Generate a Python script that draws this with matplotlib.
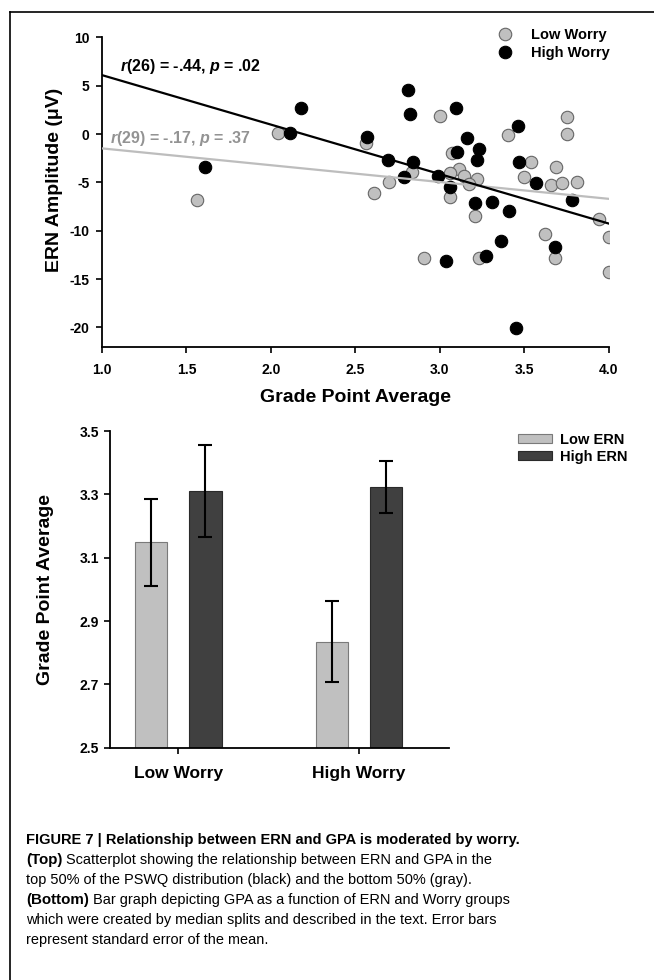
import matplotlib
matplotlib.use("Agg")
from matplotlib import pyplot as plt
from matplotlib.lines import Line2D
from matplotlib.patches import Patch
import numpy as np

# scatter: GPA vs ERN amplitude
low_gpa = [1.56, 2.04, 2.56, 3.00, 3.40, 3.755, 3.75, 2.836, 2.70, 2.61, 3.07, 3.11, 3.06, 3.14,
           3.22, 3.17, 3.06, 3.54, 3.50, 3.69, 3.66, 3.72, 3.81, 3.21, 3.94, 4.00, 3.62, 3.68,
           2.905, 3.23, 4.00]
low_ern = [-6.83, 0.07, -0.97, 1.86, -0.10, 1.72, 0.00, -3.97, -4.93, -6.07, -2.00, -3.62, -4.07, -4.31,
           -4.66, -5.18, -6.49, -2.93, -4.41, -3.45, -5.28, -5.10, -5.00, -8.49, -8.83, -10.6, -10.35, -12.87,
           -12.77, -12.87, -14.25]
high_gpa = [1.61, 2.11, 2.18, 2.566, 2.81, 2.82, 3.095, 3.46, 2.69, 2.84, 2.79, 2.99, 3.10, 3.16,
            3.23, 3.22, 3.06, 3.47, 3.57, 3.78, 3.21, 3.31, 3.41, 3.68, 3.36, 3.035, 3.27, 3.45]
high_ern = [-3.38, 0.13, 2.66, -0.28, 4.55, 2.07, 2.72, 0.86, -2.69, -2.86, -4.41, -4.31, -1.90, -0.38,
            -1.55, -2.69, -5.52, -2.93, -5.10, -6.83, -7.17, -7.07, -7.97, -11.66, -11.08, -13.15, -12.63, -20.1]

# regression lines (slope, intercept)
high_fit = (-5.12, 11.22)
low_fit = (-1.74, 0.26)
high_stat = "$r$(26) = -.44, $p$ = .02"
low_stat = "$r$(29) = -.17, $p$ = .37"

# bar chart
groups = ["Low Worry", "High Worry"]
low_ern_gpa = [3.149, 2.835]
low_ern_se = [0.137, 0.128]
high_ern_gpa = [3.311, 3.324]
high_ern_se = [0.145, 0.082]

plt.rcParams['font.family'] = ['Liberation Sans', 'DejaVu Sans']
plt.rcParams['font.weight'] = 'bold'
plt.rcParams['mathtext.fontset'] = 'custom'
plt.rcParams['mathtext.it'] = 'Liberation Sans:italic:bold'
plt.rcParams['mathtext.rm'] = 'Liberation Sans:bold'
plt.rcParams['axes.linewidth'] = 1.3
plt.rcParams['axes.unicode_minus'] = False

fig = plt.figure(figsize=(6.54, 9.8), dpi=100)

# ---- top: scatter ----
ax = fig.add_axes([0.156, 0.6462, 0.775, 0.3156])
ax.scatter(low_gpa, low_ern, s=80, c='#c0c0c0', edgecolors='#666666', linewidths=0.8, zorder=2)
ax.scatter(high_gpa, high_ern, s=80, c='black', edgecolors='black', linewidths=0.8, zorder=3)
xs = np.array([1.0, 4.0])
ax.plot(xs, low_fit[0] * xs + low_fit[1], color='#bdbdbd', lw=1.6, zorder=4)
ax.plot(xs, high_fit[0] * xs + high_fit[1], color='black', lw=1.6, zorder=4)
ax.text(1.106, 6.97, high_stat, fontsize=11.5, fontweight='bold', color='black', va='center')
ax.text(1.05, -0.45, low_stat, fontsize=11.5, fontweight='bold', color='#939393', va='center')

ax.set_xlim(1.0, 4.0)
ax.set_ylim(-22, 10)
ax.set_xticks([1.0, 1.5, 2.0, 2.5, 3.0, 3.5, 4.0])
ax.set_xticklabels(["1.0", "1.5", "2.0", "2.5", "3.0", "3.5", "4.0"])
ax.set_yticks([10, 5, 0, -5, -10, -15, -20])
ax.spines['top'].set_visible(False)
ax.spines['right'].set_visible(False)
ax.tick_params(direction='out', length=4, width=1.2, labelsize=10, pad=5)
ax.tick_params(axis='x', pad=8)
ax.set_xlabel("Grade Point Average", fontsize=14, fontweight='bold')
ax.set_ylabel("ERN Amplitude (μV)", fontsize=14, fontweight='bold')
ax.xaxis.set_label_coords(0.5, -0.137)
ax.yaxis.set_label_coords(-0.077, 0.539)

handles = [Line2D([], [], ls='none', marker='o', ms=9, mfc='#c0c0c0', mec='#666666', mew=0.8),
           Line2D([], [], ls='none', marker='o', ms=9, mfc='black', mec='black', mew=0.8)]
ax.legend(handles, ["Low Worry", "High Worry"], loc='upper left', bbox_to_anchor=(0.780, 1.031),
          frameon=False, handlelength=1.0, handletextpad=1.3, labelspacing=0.3,
          borderpad=0, borderaxespad=0, prop={'weight': 'bold', 'size': 10.5})

# ---- bottom: bars ----
bx = fig.add_axes([0.168, 0.237, 0.5185, 0.3232])
pos = np.arange(len(groups))
bx.bar(pos - 0.15, np.array(low_ern_gpa) - 2.5, 0.18, bottom=2.5, color='#c0c0c0', edgecolor='#7a7a7a',
       lw=0.8, yerr=low_ern_se, capsize=5, error_kw={'elinewidth': 1.5, 'capthick': 1.5}, zorder=2)
bx.bar(pos + 0.15, np.array(high_ern_gpa) - 2.5, 0.18, bottom=2.5, color='#404040', edgecolor='#2a2a2a',
       lw=0.8, yerr=high_ern_se, capsize=5, error_kw={'elinewidth': 1.5, 'capthick': 1.5}, zorder=2)
bx.set_xlim(-0.378, 1.498)
bx.set_ylim(2.5, 3.5)
bx.set_yticks([2.5, 2.7, 2.9, 3.1, 3.3, 3.5])
bx.set_yticklabels(["2.5", "2.7", "2.9", "3.1", "3.3", "3.5"])
bx.set_xticks(pos)
bx.set_xticklabels(groups, fontsize=12.5, fontweight='bold')
bx.spines['top'].set_visible(False)
bx.spines['right'].set_visible(False)
bx.tick_params(direction='out', length=4, width=1.2, labelsize=10, pad=4)
bx.tick_params(axis='x', pad=9, labelsize=12.5)
bx.set_ylabel("Grade Point Average", fontsize=14, fontweight='bold')
bx.yaxis.set_label_coords(-0.164, 0.5)

bhandles = [Patch(facecolor='#c0c0c0', edgecolor='#7a7a7a', lw=0.8),
            Patch(facecolor='#404040', edgecolor='#2a2a2a', lw=0.8)]
bx.legend(bhandles, ["Low ERN", "High ERN"], loc='upper left', bbox_to_anchor=(1.204, 0.995),
          frameon=False, handlelength=2.3, handleheight=0.6, handletextpad=0.6, labelspacing=0.22,
          borderpad=0, borderaxespad=0, prop={'weight': 'bold', 'size': 10.5})

# ---- frame lines ----
fig.add_artist(Line2D([10 / 654, 1.0], [1 - 11.7 / 980] * 2, color='black', lw=1.2))
fig.add_artist(Line2D([10 / 654] * 2, [0.0, 1 - 11.7 / 980], color='black', lw=1.2))

# ---- caption ----
caption = [("FIGURE 7 | Relationship between ERN and GPA is moderated by worry.", ""),
           ("(Top)", " Scatterplot showing the relationship between ERN and GPA in the"),
           ("", "top 50% of the PSWQ distribution (black) and the bottom 50% (gray)."),
           ("(Bottom)", " Bar graph depicting GPA as a function of ERN and Worry groups"),
           ("", "which were created by median splits and described in the text. Error bars"),
           ("", "represent standard error of the mean.")]
renderer = fig.canvas.get_renderer()
x0 = 26 / 654
for i, (bold, rest) in enumerate(caption):
    y = 1 - (844 + 20 * i) / 980
    x = x0
    if bold:
        t = fig.text(x, y, bold, fontsize=10.9 if rest else 10.5,
                     fontweight='bold', va='baseline')
        bb = t.get_window_extent(renderer=renderer)
        x = bb.x1 / fig.bbox.width
    if rest:
        fig.text(x, y, rest, fontsize=10.45, fontweight='normal', va='baseline')

fig.savefig("out.png", dpi=100)
